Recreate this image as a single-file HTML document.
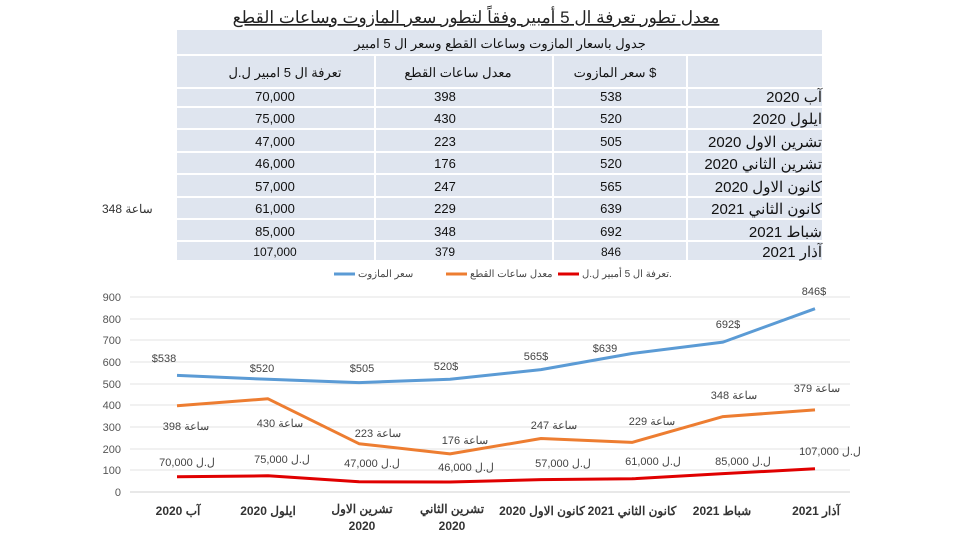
<!DOCTYPE html>
<html><head><meta charset="utf-8"><style>
body{margin:0;width:960px;height:540px;background:#fff;overflow:hidden;font-family:"Liberation Sans","Noto Sans CJK SC",sans-serif}
</style></head><body>
<svg width="960" height="540" xmlns="http://www.w3.org/2000/svg" font-family="Liberation Sans, Noto Sans CJK SC, sans-serif">
<text x="476" y="23" font-size="17" text-anchor="middle" fill="#222" text-decoration="underline">معدل تطور تعرفة ال 5 أمبير وفقاً لتطور سعر المازوت وساعات القطع</text>
<rect x="177" y="30" width="645" height="230" fill="#dfe5ef"/>
<g stroke="#fff" stroke-width="2">
<line x1="177" y1="55" x2="822" y2="55"/><line x1="177" y1="88" x2="822" y2="88"/>
<line x1="177" y1="107" x2="822" y2="107"/><line x1="177" y1="129" x2="822" y2="129"/>
<line x1="177" y1="152" x2="822" y2="152"/><line x1="177" y1="174" x2="822" y2="174"/>
<line x1="177" y1="197" x2="822" y2="197"/><line x1="177" y1="219" x2="822" y2="219"/>
<line x1="177" y1="241" x2="822" y2="241"/>
<line x1="375" y1="55" x2="375" y2="260"/><line x1="553" y1="55" x2="553" y2="260"/><line x1="687" y1="55" x2="687" y2="260"/>
</g>
<g font-size="13" fill="#111" text-anchor="middle">
<text x="500" y="48">جدول باسعار المازوت وساعات القطع وسعر ال 5 امبير</text>
<text x="285" y="77">تعرفة ال 5 امبير ل.ل</text><text x="458" y="77">معدل ساعات القطع</text><text x="615" y="77">سعر المازوت $</text>
</g>
<g font-size="13" fill="#111">
<g text-anchor="middle">
<text x="275" y="101">70,000</text><text x="445" y="101">398</text><text x="611" y="101">538</text>
<text x="275" y="123">75,000</text><text x="445" y="123">430</text><text x="611" y="123">520</text>
<text x="275" y="146">47,000</text><text x="445" y="146">223</text><text x="611" y="146">505</text>
<text x="275" y="168">46,000</text><text x="445" y="168">176</text><text x="611" y="168">520</text>
<text x="275" y="191">57,000</text><text x="445" y="191">247</text><text x="611" y="191">565</text>
<text x="275" y="213">61,000</text><text x="445" y="213">229</text><text x="611" y="213">639</text>
<text x="275" y="236">85,000</text><text x="445" y="236">348</text><text x="611" y="236">692</text>
<text x="275" y="256" font-size="12">107,000</text><text x="445" y="256" font-size="12">379</text><text x="611" y="256" font-size="12">846</text>
</g>
<g text-anchor="end" font-size="15">
<text x="822" y="102">آب 2020</text><text x="822" y="124">ايلول 2020</text><text x="822" y="147">تشرين الاول 2020</text>
<text x="822" y="169">تشرين الثاني 2020</text><text x="822" y="192">كانون الاول 2020</text><text x="822" y="214">كانون الثاني 2021</text>
<text x="822" y="237">شباط 2021</text><text x="822" y="257">آذار 2021</text>
</g>
</g>
<text x="102" y="213" font-size="12" fill="#333">348 ساعة</text>
<g font-size="10" fill="#444">
<line x1="334" y1="274" x2="355" y2="274" stroke="#5b9bd5" stroke-width="3"/><text x="358" y="277">سعر المازوت</text>
<line x1="446" y1="274" x2="467" y2="274" stroke="#ed7d31" stroke-width="3"/><text x="470" y="277">معدل ساعات القطع</text>
<line x1="558" y1="274" x2="579" y2="274" stroke="#e00000" stroke-width="3"/><text x="582" y="277">تعرفة ال 5 أمبير ل.ل.</text>
</g>
<g stroke="#e3e3e3" stroke-width="1">
<line x1="130" y1="297" x2="850" y2="297"/><line x1="130" y1="319" x2="850" y2="319"/><line x1="130" y1="340" x2="850" y2="340"/>
<line x1="130" y1="362" x2="850" y2="362"/><line x1="130" y1="384" x2="850" y2="384"/><line x1="130" y1="405" x2="850" y2="405"/>
<line x1="130" y1="427" x2="850" y2="427"/><line x1="130" y1="449" x2="850" y2="449"/><line x1="130" y1="470" x2="850" y2="470"/>
<line x1="130" y1="492" x2="850" y2="492" stroke="#d0d0d0"/>
</g>
<g font-size="11" fill="#555" text-anchor="end">
<text x="121" y="301">900</text><text x="121" y="323">800</text><text x="121" y="344">700</text><text x="121" y="366">600</text>
<text x="121" y="388">500</text><text x="121" y="409">400</text><text x="121" y="431">300</text><text x="121" y="453">200</text>
<text x="121" y="474">100</text><text x="121" y="496">0</text>
</g>
<polyline fill="none" stroke="#5b9bd5" stroke-width="3" stroke-linejoin="round" points="177,375.4 268,379.3 359,382.6 450,379.3 541,369.6 632,353.5 723,342.1 815,308.7"/>
<polyline fill="none" stroke="#ed7d31" stroke-width="3" stroke-linejoin="round" points="177,405.8 268,398.8 359,443.7 450,453.9 541,438.5 632,442.4 723,416.6 815,409.9"/>
<polyline fill="none" stroke="#e00000" stroke-width="3" stroke-linejoin="round" points="177,476.8 268,475.8 359,481.8 450,482 541,479.6 632,478.8 723,473.6 815,468.8"/>
<g font-size="11" fill="#444" text-anchor="middle">
<text x="164" y="362">$538</text><text x="262" y="372">$520</text><text x="362" y="372">$505</text><text x="446" y="370">520$</text>
<text x="536" y="360">565$</text><text x="605" y="352">$639</text><text x="728" y="328">692$</text><text x="814" y="295">846$</text>
<text x="186" y="430">398 ساعة</text><text x="280" y="427">430 ساعة</text><text x="378" y="437">223 ساعة</text><text x="465" y="444">176 ساعة</text>
<text x="554" y="429">247 ساعة</text><text x="652" y="425">229 ساعة</text><text x="734" y="399">348 ساعة</text><text x="817" y="392">379 ساعة</text>
<text x="187" y="466">ل.ل 70,000</text><text x="282" y="463">ل.ل 75,000</text><text x="372" y="467">ل.ل 47,000</text><text x="466" y="471">ل.ل 46,000</text>
<text x="563" y="467">ل.ل 57,000</text><text x="653" y="465">ل.ل 61,000</text><text x="743" y="465">ل.ل 85,000</text><text x="830" y="455">ل.ل 107,000</text>
</g>
<g font-size="12" font-weight="bold" fill="#333" text-anchor="middle">
<text x="178" y="515">آب 2020</text><text x="268" y="515">ايلول 2020</text>
<text x="362" y="513">تشرين الاول</text><text x="362" y="530">2020</text>
<text x="452" y="513">تشرين الثاني</text><text x="452" y="530">2020</text>
<text x="542" y="515">كانون الاول 2020</text><text x="632" y="515">كانون الثاني 2021</text>
<text x="722" y="515">شباط 2021</text><text x="816" y="515">آذار 2021</text>
</g>
</svg>
</body></html>
